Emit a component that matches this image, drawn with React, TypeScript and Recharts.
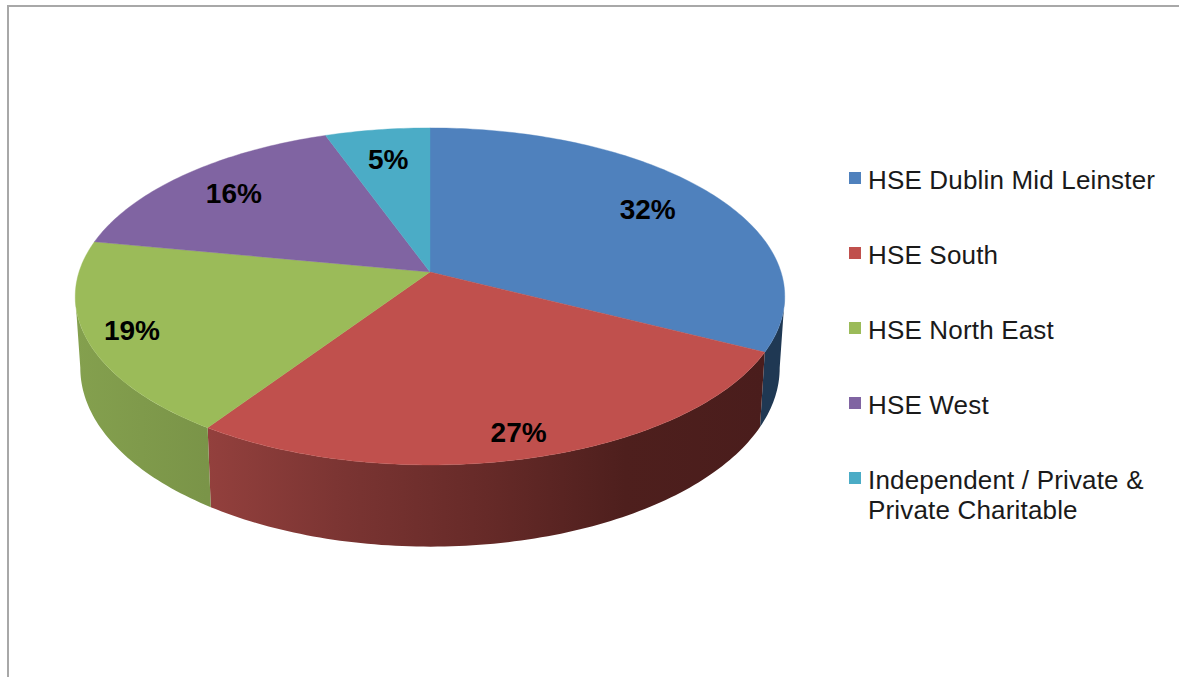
import React from "react";
import { PieChart, Pie, Legend } from "recharts";

const categories = [
  "HSE Dublin Mid Leinster",
  "HSE South",
  "HSE North East",
  "HSE West",
  "Independent / Private & Private Charitable",
];
const shares = [32.49, 26.9, 18.6, 16.49, 5.49];
const colors = ["#4F81BD", "#C0504D", "#9BBB59", "#8064A2", "#4BACC6"];
const labelRadii = [0.77, 0.88, 0.875, 0.79, 0.77];
const wallStops: string[][] = [
  ["#1F3853", "#1F3853"],
  ["#93403D", "#7A3432", "#662A28", "#4E1F1D", "#4A1D1C"],
  ["#84A04E", "#7A9448"],
  ["#5F4A7A", "#5F4A7A"],
  ["#36849A", "#36849A"],
];

const rows = categories.map((name, i) => ({ name, value: shares[i], fill: colors[i] }));

const CX = 430;
const CY = 272;
const RX = 351;
const TILT = 0.47; // top-face vertical scale
const PERSPECTIVE = -0.145;
const WALL_X = 346 / 351;
const WALL_Y_OFFSET = 70;
const WALL_Y_SCALE = 175 / 165;
// Silhouette of the disc: the rim's widest points sit at v = -PERSPECTIVE
const WALL_START = 98.3;
const WALL_END = 261.7;

const rad = (d: number) => (d * Math.PI) / 180;

function project(theta: number, r: number, cx: number, cy: number, rx: number) {
  const u = Math.sin(rad(theta)) * r;
  const v = -Math.cos(rad(theta)) * r;
  const d = 1 + PERSPECTIVE * v;
  return { x: cx + (rx * u) / d, y: cy + (rx * TILT * v) / d };
}

function wallPoint(theta: number, cx: number, cy: number, rx: number) {
  const u = Math.sin(rad(theta));
  const v = -Math.cos(rad(theta));
  const d = 1 + PERSPECTIVE * v;
  return {
    x: cx + (rx * WALL_X * u) / d,
    y: cy + WALL_Y_OFFSET + (rx * TILT * WALL_Y_SCALE * v) / d,
  };
}

function range(a: number, b: number) {
  const out: number[] = [];
  const n = Math.max(2, Math.ceil((b - a) / 1));
  for (let i = 0; i <= n; i++) out.push(a + ((b - a) * i) / n);
  return out;
}

const toPath = (pts: { x: number; y: number }[]) =>
  pts.map((p, i) => `${i ? "L" : "M"}${p.x.toFixed(2)} ${p.y.toFixed(2)}`).join(" ") + " Z";

function Slice3D(props: any) {
  const { cx, cy, outerRadius, startAngle, endAngle, index, fill } = props;
  const t0 = 90 - Math.max(startAngle, endAngle);
  const t1 = 90 - Math.min(startAngle, endAngle);
  const top = [
    { x: cx, y: cy },
    ...range(t0, t1).map((t) => project(t, 1, cx, cy, outerRadius)),
  ];
  const w0 = Math.max(t0, WALL_START);
  const w1 = Math.min(t1, WALL_END);
  const hasWall = w1 > w0;
  const stops = wallStops[index] ?? [fill, fill];
  const gid = `wall-${index}`;
  let wall = "";
  let gx0 = 0;
  let gx1 = 1;
  if (hasWall) {
    const ts = range(w0, w1);
    const rim = ts.map((t) => project(t, 1, cx, cy, outerRadius));
    const base = ts.map((t) => wallPoint(t, cx, cy, outerRadius)).reverse();
    wall = toPath([...rim, ...base]);
    const xs = rim.map((p) => p.x);
    gx0 = Math.min(...xs);
    gx1 = Math.max(...xs);
  }
  return (
    <g>
      {hasWall && (
        <>
          <defs>
            <linearGradient id={gid} gradientUnits="userSpaceOnUse" x1={gx0} x2={gx1} y1={0} y2={0}>
              {stops.map((c, i) => (
                <stop key={i} offset={i / (stops.length - 1)} stopColor={c} />
              ))}
            </linearGradient>
          </defs>
          <path d={wall} fill={`url(#${gid})`} />
        </>
      )}
      <path d={toPath(top)} fill={fill} stroke={fill} strokeWidth={0.4} />
    </g>
  );
}

function sliceLabel(props: any) {
  const { cx, cy, outerRadius, midAngle, percent, index } = props;
  const p = project(90 - midAngle, labelRadii[index], cx, cy, outerRadius);
  return (
    <text
      key={index}
      x={p.x}
      y={p.y}
      textAnchor="middle"
      dominantBaseline="central"
      fontFamily="Liberation Sans"
      fontWeight={700}
      fontSize={28}
      fill="#000"
    >
      {`${Math.round(percent * 100)}%`}
    </text>
  );
}

function LegendList(props: any) {
  const { payload } = props;
  return (
    <div
      style={{
        fontFamily: "Liberation Sans",
        fontSize: 26,
        letterSpacing: 0.17,
        lineHeight: "30px",
        color: "#1a1a1a",
      }}
    >
      {(payload ?? []).map((e: any) => (
        <div key={e.value} style={{ display: "flex", alignItems: "flex-start", marginBottom: 45 }}>
          <span
            style={{
              width: 12,
              height: 12,
              marginTop: 7,
              marginRight: 7,
              flex: "none",
              background: e.color ?? e.payload?.fill,
            }}
          />
          <span>{e.value}</span>
        </div>
      ))}
    </div>
  );
}

export default function App() {
  return (
    <div style={{ position: "absolute", left: 0, top: 0, width: 1179, height: 677, overflow: "hidden", background: "#fff" }}>
      <div
        style={{
          position: "absolute",
          left: 7,
          top: 5,
          width: 1172,
          height: 672,
          borderTop: "2px solid #A8A8A8",
          borderLeft: "2px solid #A8A8A8",
        }}
      />
      <div style={{ position: "absolute", left: 0, top: 0 }}>
        <PieChart width={1179} height={677} margin={{ top: 0, right: 0, bottom: 0, left: 0 }}>
          <Pie
            data={rows}
            dataKey="value"
            nameKey="name"
            cx={CX}
            cy={CY}
            outerRadius={RX}
            startAngle={90}
            endAngle={-270}
            stroke="none"
            isAnimationActive={false}
            shape={Slice3D}
            label={sliceLabel}
            labelLine={false}
          />
          <Legend
            layout="vertical"
            itemSorter={null}
            content={<LegendList />}
            wrapperStyle={{ position: "absolute", left: 849, top: 165, width: 310 }}
          />
        </PieChart>
      </div>
    </div>
  );
}
